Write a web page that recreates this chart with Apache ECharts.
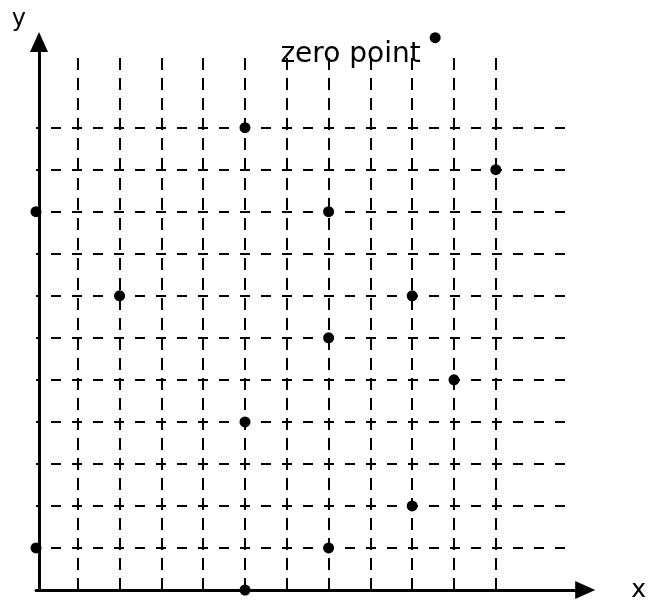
<!DOCTYPE html>
<html>
<head>
<meta charset="utf-8">
<style>
  html, body { margin: 0; padding: 0; background: #fff; }
  #chart { width: 649px; height: 607px; }
</style>
<script src="https://cdn.jsdelivr.net/npm/echarts@6/dist/echarts.min.js"></script>
</head>
<body>
<div id="chart"></div>
<script>
// grid lines (data units) and the plotted points
var xLines = [1, 2, 3, 4, 5, 6, 7, 8, 9, 10, 11];
var yLines = [1, 2, 3, 4, 5, 6, 7, 8, 9, 10, 11];
var points = [[5, 11], [11, 10], [0, 9], [7, 9], [2, 7], [9, 7], [7, 6], [10, 5], [5, 4], [9, 2], [0, 1], [7, 1], [5, 0]];
var zeroPoint = [9.55, 13.14];
var zeroLabel = 'zero point';
var xMax = 12.9, yMax = 12.8;

var chart = echarts.init(document.getElementById('chart'));

var gridLines = [];
xLines.forEach(function (v) {
  gridLines.push({ xAxis: v, lineStyle: { type: [12, 8] } });
});
yLines.forEach(function (v) {
  gridLines.push({ yAxis: v, lineStyle: { type: [10, 11], dashOffset: 6 } });
});

var axisLine = {
  onZero: true,
  symbol: ['none', 'triangle'],
  symbolSize: [18, 20],
  symbolOffset: [0, 10],
  lineStyle: { color: '#000', width: 3 }
};

option = {
  animation: false,
  grid: { left: 36, right: 72, top: 52, bottom: 17 },
  xAxis: {
    type: 'value',
    min: 0,
    max: xMax,
    name: 'x',
    nameLocation: 'end',
    nameGap: 56,
    nameTextStyle: { fontFamily: 'DejaVu Sans', fontSize: 25, color: '#000' },
    axisLine: axisLine,
    axisTick: { show: false },
    axisLabel: { show: false },
    splitLine: { show: false }
  },
  yAxis: {
    type: 'value',
    min: 0,
    max: yMax,
    offset: -3,
    name: 'y',
    nameLocation: 'end',
    nameGap: 20,
    nameTextStyle: { fontFamily: 'DejaVu Sans', fontSize: 24, color: '#000', align: 'right', padding: [0, 13, 0, 0] },
    axisLine: Object.assign({}, axisLine, { onZero: false }),
    axisTick: { show: false },
    axisLabel: { show: false },
    splitLine: { show: false }
  },
  series: [
    {
      type: 'line',
      data: [],
      z: 1,
      silent: true,
      markLine: {
        silent: true,
        symbol: ['none', 'none'],
        label: { show: false },
        lineStyle: { color: '#000', width: 2, opacity: 1 },
        data: gridLines
      }
    },
    {
      type: 'scatter',
      z: 3,
      clip: false,
      symbolSize: 11,
      itemStyle: { color: '#000', opacity: 1 },
      data: points
    },
    {
      type: 'scatter',
      z: 3,
      clip: false,
      symbolSize: 11,
      itemStyle: { color: '#000', opacity: 1 },
      label: {
        show: true,
        position: 'left',
        distance: 9,
        offset: [0, 17],
        formatter: zeroLabel,
        fontFamily: 'DejaVu Sans',
        fontSize: 28,
        color: '#000'
      },
      data: [zeroPoint]
    }
  ]
};

chart.setOption(option);
window.onresize = function () {
  chart.resize();
};
</script>
</body>
</html>
